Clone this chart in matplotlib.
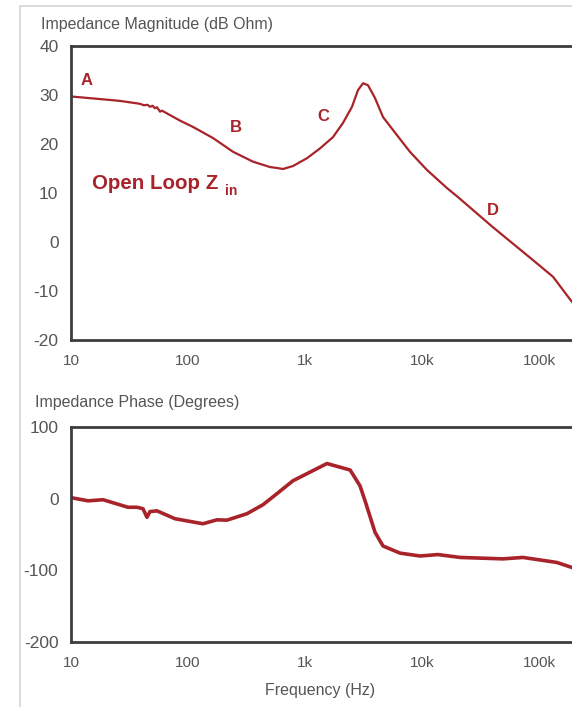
import numpy as np
import matplotlib
matplotlib.use("Agg")
import matplotlib.pyplot as plt
from matplotlib.lines import Line2D

# magnitude curve
mag_freq = [10, 15.4, 26.2, 38.9, 42, 45, 47.3, 50, 52, 54.3, 57.7, 60, 70.2, 85, 110,
            164, 243, 359, 502, 577, 649, 789, 1040, 1343, 1734, 2112, 2522, 2838, 3133,
            3454, 3963, 4643, 6115, 7890, 11030, 16360, 20000, 40000, 88900, 131800,
            191000]
mag_db = [29.7, 29.3, 28.8, 28.2, 27.9, 28.0, 27.6, 27.8, 27.3, 27.5, 26.6, 26.8, 25.9,
          24.8, 23.5, 21.2, 18.4, 16.4, 15.3, 15.1, 14.9, 15.5, 17.1, 19.1, 21.4, 24.3,
          27.6, 31.0, 32.4, 32.0, 29.4, 25.5, 21.8, 18.4, 14.7, 11.0, 9.3, 3.1, -3.7,
          -7.1, -12.2]

# phase curve
ph_freq = [10, 14, 18.8, 30.7, 36.6, 41.2, 44.6, 47.3, 54.3, 77.4, 134, 177, 215, 319,
           437, 576, 789, 1540, 2430, 2950, 3260, 3970, 4640, 6490, 9620, 13700, 21100,
           49200, 72900, 142000, 191000]
ph_deg = [1.4, -3, -1.5, -12, -12, -14, -26, -18, -17, -28, -35, -29.5, -30, -21, -8.5,
          7, 25, 49, 40, 18, -3, -47, -66, -76, -80, -78, -82, -84, -82, -89, -96]

xticks = [10, 100, 1000, 10000, 100000]
xlabels = ["10", "100", "1k", "10k", "100k"]
mag_ticks = [-20, -10, 0, 10, 20, 30, 40]
ph_ticks = [-200, -100, 0, 100]

RED = "#a8232a"
GREY = "#555555"
SPINE = "#3d3d3d"

plt.rcParams['font.family'] = ['Liberation Sans', 'DejaVu Sans']
plt.rcParams['axes.unicode_minus'] = False

W, H = 572, 707
fig = plt.figure(figsize=(W / 100, H / 100), dpi=100)

# axes extend past the right edge like in the screenshot (117 px per decade)
left = 71 / W
width = 5 * 117 / W


def setup(ax, yticks):
    ax.set_xscale("log")
    ax.set_xlim(10, 1e6)
    ax.set_xticks(xticks)
    ax.set_xticklabels(xlabels)
    ax.minorticks_off()
    ax.set_yticks(yticks)
    ax.set_ylim(yticks[0], yticks[-1])
    for s in ["top", "bottom", "left"]:
        ax.spines[s].set_color(SPINE)
        ax.spines[s].set_linewidth(2.0)
    ax.spines["right"].set_visible(False)
    ax.tick_params(axis="both", length=0, colors=GREY)
    ax.tick_params(axis="x", labelsize=11, pad=10)
    ax.tick_params(axis="y", labelsize=12.5, pad=9)


ax1 = fig.add_axes([left, 1 - 340 / H, width, 294 / H])
setup(ax1, mag_ticks)
ax1.plot(mag_freq, mag_db, color=RED, lw=1.6, solid_joinstyle="round")

ax1.text(13.7, 32.9, "A", color=RED, fontsize=12, fontweight="bold", ha="center", va="center")
ax1.text(257, 23.3, "B", color=RED, fontsize=12, fontweight="bold", ha="center", va="center")
ax1.text(1426, 25.7, "C", color=RED, fontsize=12, fontweight="bold", ha="center", va="center")
ax1.text(40400, 6.5, "D", color=RED, fontsize=12, fontweight="bold", ha="center", va="center")
ax1.text(15.1, 12.0, "Open Loop Z", color=RED, fontsize=14.8, fontweight="bold", ha="left", va="center")
ax1.text(207, 10.5, "in", color=RED, fontsize=10, fontweight="bold", ha="left", va="center")

ax2 = fig.add_axes([left, 1 - 642 / H, width, 215 / H])
setup(ax2, ph_ticks)
ax2.plot(ph_freq, ph_deg, color=RED, lw=2.6, solid_joinstyle="round")

fig.text(41 / W, 1 - 24 / H, "Impedance Magnitude (dB Ohm)", color=GREY, fontsize=11.5,
         ha="left", va="center")
fig.text(35 / W, 1 - 403 / H, "Impedance Phase (Degrees)", color=GREY, fontsize=11.5,
         ha="left", va="center")
fig.text(320 / W, 1 - 690 / H, "Frequency (Hz)", color=GREY, fontsize=11.5,
         ha="center", va="center")

# light frame of the screenshot
fig.add_artist(Line2D([20 / W, 20 / W, 1.0], [0.0, 1 - 6 / H, 1 - 6 / H],
                      transform=fig.transFigure, color="#d4d4d4", lw=1.2))

fig.savefig("out.png", dpi=100)
